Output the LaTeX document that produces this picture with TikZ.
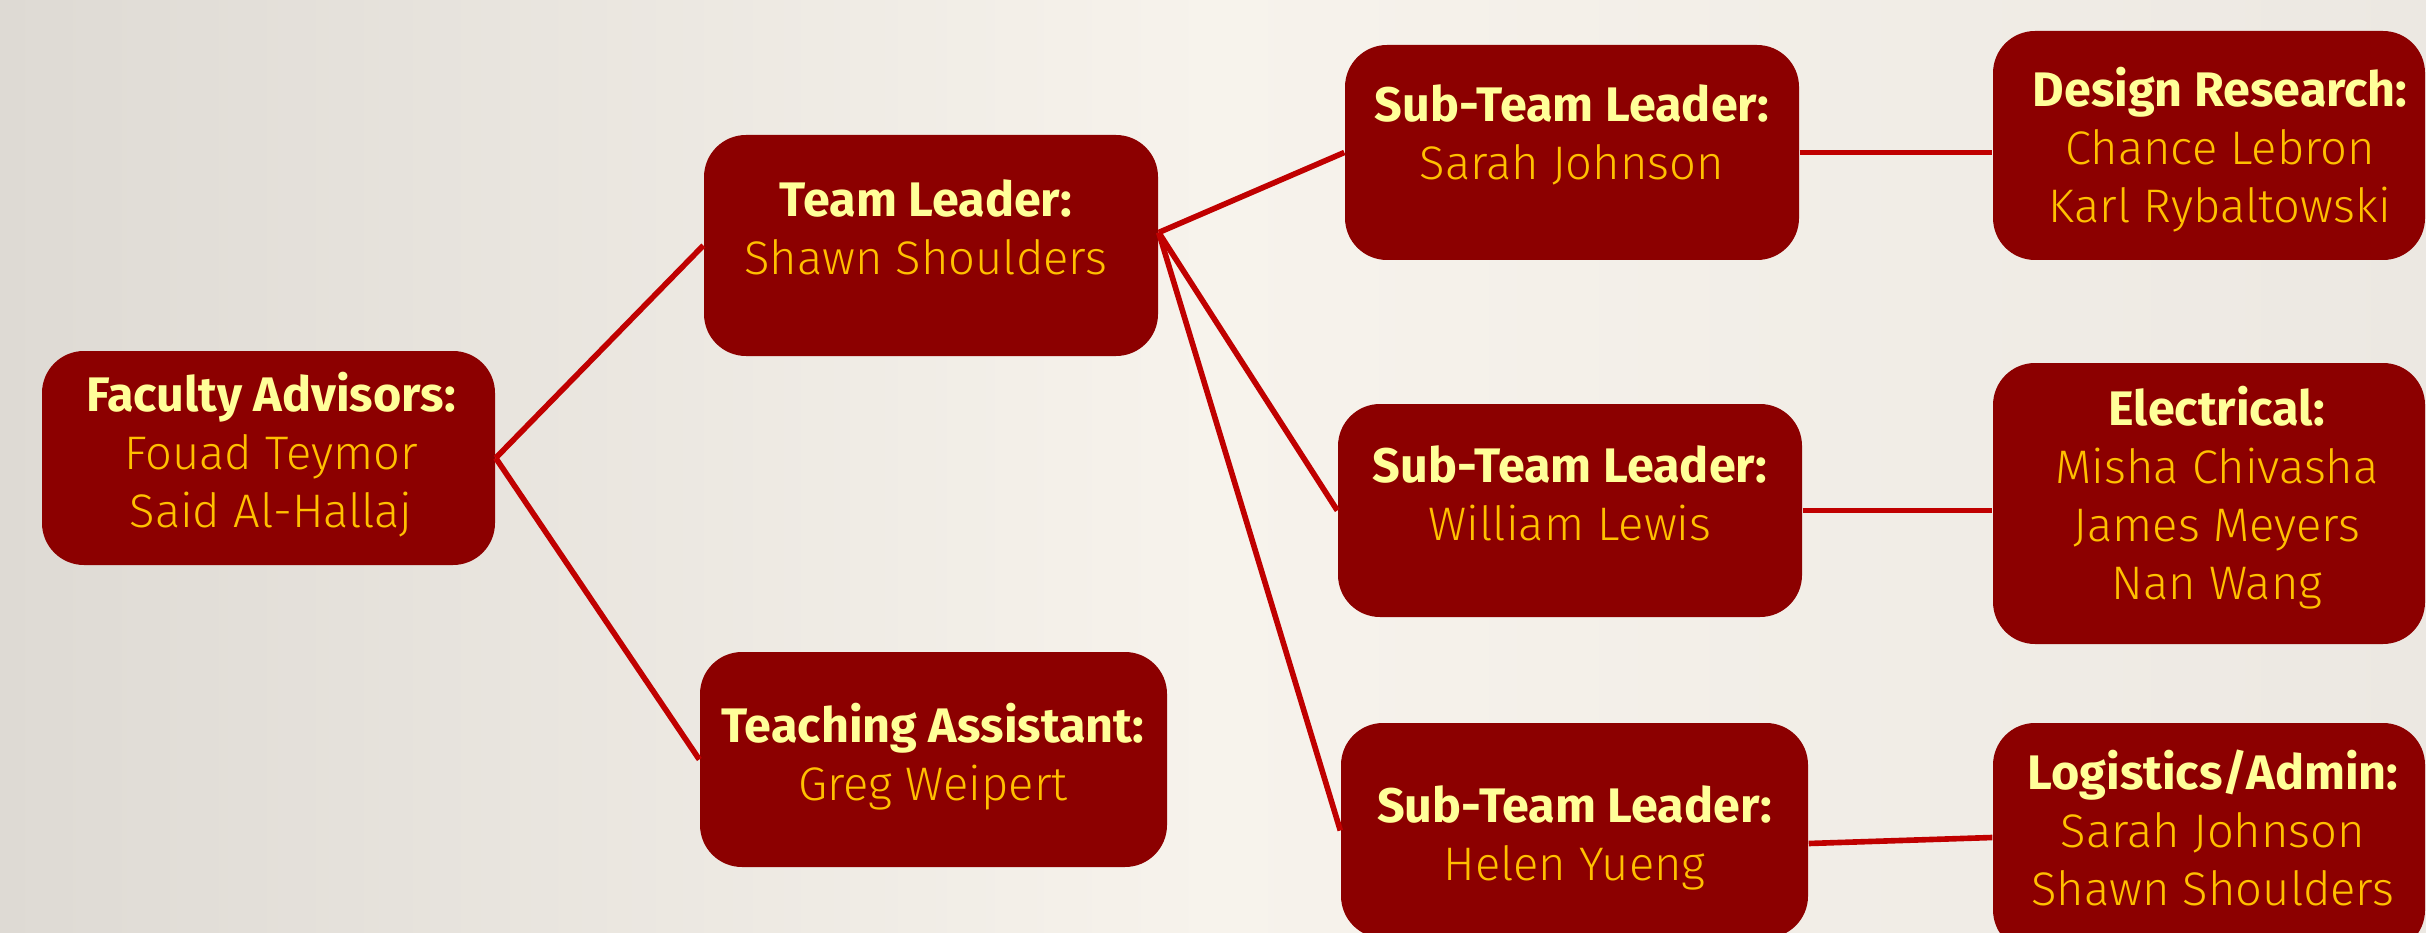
\documentclass[tikz,border=0pt]{standalone}
\usepackage{fontspec}
\setmainfont{Fira Sans}[UprightFont=* Light, BoldFont=* Bold]

\definecolor{boxred}{HTML}{8C0000}
\definecolor{linkred}{HTML}{C00000}
\definecolor{headyellow}{HTML}{FFFF99}
\definecolor{namegold}{HTML}{FFC000}
\definecolor{bgleft}{HTML}{DEDAD4}
\definecolor{bgmid}{HTML}{F7F3EC}
\definecolor{bgright}{HTML}{ECE8E2}

\tikzset{
	member/.style={fill=boxred, rounded corners=0.42cm, inner sep=0pt},
	names/.style={align=center, text=namegold, inner sep=0pt,
		font=\fontsize{13.4}{16.5}\selectfont},
	link/.style={draw=linkred, line width=1.6pt}
}
\newcommand{\role}[1]{{\fontsize{13.8}{16.5}\selectfont\bfseries\color{headyellow}#1}}

\begin{document}
\begin{tikzpicture}[x=1cm, y=1cm]
\useasboundingbox (0,0) rectangle (24.26,-9.33);
\clip (0,0) rectangle (24.26,-9.33);
\shade[left color=bgleft, right color=bgright, middle color=bgmid]
(0,0) rectangle (24.26,-9.33);

% boxes
\node[member, minimum width=4.53cm, minimum height=2.14cm] (fa) at (2.685,-4.58) {};
\node[member, minimum width=4.54cm, minimum height=2.21cm] (tl) at (9.31,-2.455) {};
\node[member, minimum width=4.67cm, minimum height=2.15cm] (ta) at (9.335,-7.595) {};
\node[member, minimum width=4.54cm, minimum height=2.15cm] (st1) at (15.72,-1.525) {};
\node[member, minimum width=4.64cm, minimum height=2.13cm] (st2) at (15.70,-5.105) {};
\node[member, minimum width=4.67cm, minimum height=2.15cm] (st3) at (15.745,-8.305) {};
\node[member, minimum width=4.32cm, minimum height=2.29cm] (dr) at (22.09,-1.455) {};
\node[member, minimum width=4.32cm, minimum height=2.81cm] (el) at (22.09,-5.035) {};
\node[member, minimum width=4.32cm, minimum height=2.29cm] (la) at (22.09,-8.375) {};

% links
\coordinate (tl-out) at ([yshift=0.13cm]tl.east);
\coordinate (st3-out) at ([yshift=-0.13cm]st3.east);
\draw[link] (fa.east) -- (tl.west);
\draw[link] (fa.east) -- (ta.west);
\foreach \sub in {st1,st2,st3}
	\draw[link] (tl-out) -- (\sub.west);
\draw[link] (st1.east) -- (st1.east -| dr.west);
\draw[link] (st2.east) -- (st2.east -| el.west);
\draw[link] (st3-out) -- (la.west);

% texts
\node[names] (fa-t) at (2.71,-4.55) {\role{Faculty Advisors:}\\Fouad Teymor\\Said Al-Hallaj};
\node[names] (tl-t) at (9.26,-2.27) {\role{Team Leader:}\\Shawn Shoulders};
\node[names] (ta-t) at (9.33,-7.57) {\role{Teaching Assistant:}\\Greg Weipert};
\node[names] (st1-t) at (15.72,-1.35) {\role{Sub-Team Leader:}\\Sarah Johnson};
\node[names] (st2-t) at (15.70,-4.93) {\role{Sub-Team Leader:}\\William Lewis};
\node[names] (st3-t) at (15.745,-8.38) {\role{Sub-Team Leader:}\\Helen Yueng};
\node[names] (dr-t) at (22.2,-1.50) {\role{Design Research:}\\Chance Lebron\\Karl Rybaltowski};
\node[names] (el-t) at (22.17,-4.98) {\role{Electrical:}\\Misha Chivasha\\James Meyers\\Nan Wang};
\node[names] (la-t) at (22.13,-8.28) {\role{Logistics/Admin:}\\Sarah Johnson\\Shawn Shoulders};
\end{tikzpicture}
\end{document}
